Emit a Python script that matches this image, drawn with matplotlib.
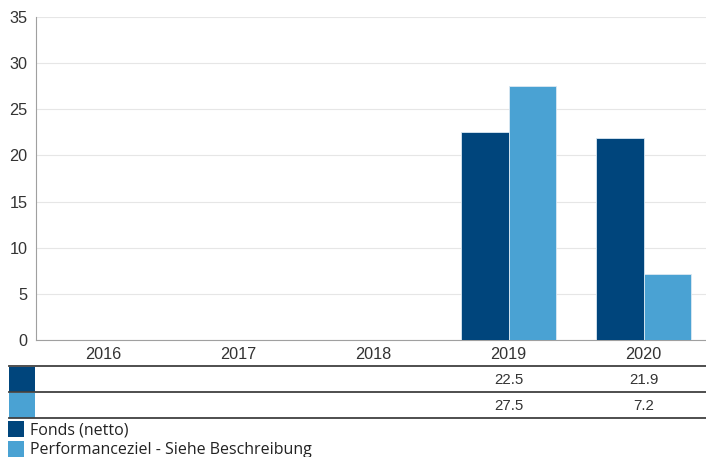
import numpy as np
import matplotlib.pyplot as plt
from matplotlib import transforms
from matplotlib.patches import Rectangle
from matplotlib.lines import Line2D

years = ['2016', '2017', '2018', '2019', '2020']
fonds = [np.nan, np.nan, np.nan, 22.5, 21.9]
ziel = [np.nan, np.nan, np.nan, 27.5, 7.2]
series_names = ['Fonds (netto)', 'Performanceziel - Siehe Beschreibung']
colors = ['#00457C', '#4AA2D3']

W, H = 706, 457
fig = plt.figure(figsize=(W / 100, H / 100), dpi=100)

# axes in pixel units -> figure fractions
def px(x0, y0, x1, y1):
    return [x0 / W, 1 - y1 / H, (x1 - x0) / W, (y1 - y0) / H]

ax = fig.add_axes(px(36, 17, 711, 340))
x = np.arange(len(years))
bw = 0.35
ax.bar(x - bw / 2, fonds, bw, color=colors[0], edgecolor='#dbe8f2', linewidth=0.6, zorder=3)
ax.bar(x + bw / 2, ziel, bw, color=colors[1], edgecolor='#dbe8f2', linewidth=0.6, zorder=3)

ax.set_xlim(-0.5, len(years) - 0.5)
ax.set_ylim(0, 35)
ax.set_yticks(range(0, 36, 5))
ax.set_xticks(x)
ax.set_xticklabels(years)
ax.grid(axis='y', color='#e6e6e6', linewidth=0.8, zorder=0)
for s in ['top', 'right']:
    ax.spines[s].set_visible(False)
for s in ['left', 'bottom']:
    ax.spines[s].set_color('#a0a0a0')
ax.tick_params(length=0, labelsize=11.7, colors='#333333', pad=5)
ax.tick_params(axis='y', pad=6)
for lab in ax.get_xticklabels() + ax.get_yticklabels():
    lab.set_family('Liberation Sans')
    lab.set_color('#333333')

# data table under the chart
trans = transforms.blended_transform_factory(ax.transData, fig.transFigure)
for yp in [366, 392, 418]:
    fig.add_artist(Line2D([9 / W, 1], [1 - yp / H] * 2, color='#404040', linewidth=1.3))
for i, (vals, c) in enumerate(zip([fonds, ziel], colors)):
    top = 367 + i * 26
    fig.add_artist(Rectangle((9 / W, 1 - (top + 25) / H), 26 / W, 25 / H,
                             transform=fig.transFigure, color=c, linewidth=0))
    for xi, v in zip(x, vals):
        if not np.isnan(v):
            fig.text(xi, 1 - (top + 12.5) / H, f'{v:.1f}', transform=trans,
                     ha='center', va='center', fontsize=10.8, color='#333333',
                     family='Liberation Sans')

# legend
for i, (name, c) in enumerate(zip(series_names, colors)):
    top = 421 + i * 19.5
    fig.add_artist(Rectangle((8 / W, 1 - (top + 16) / H), 16 / W, 16 / H,
                             transform=fig.transFigure, color=c, linewidth=0))
    fig.text(30 / W, 1 - (top + 9.5) / H, name, ha='left', va='center',
             fontsize=11.5, color='#222222', family='Open Sans')

fig.savefig('out.png', dpi=100)
